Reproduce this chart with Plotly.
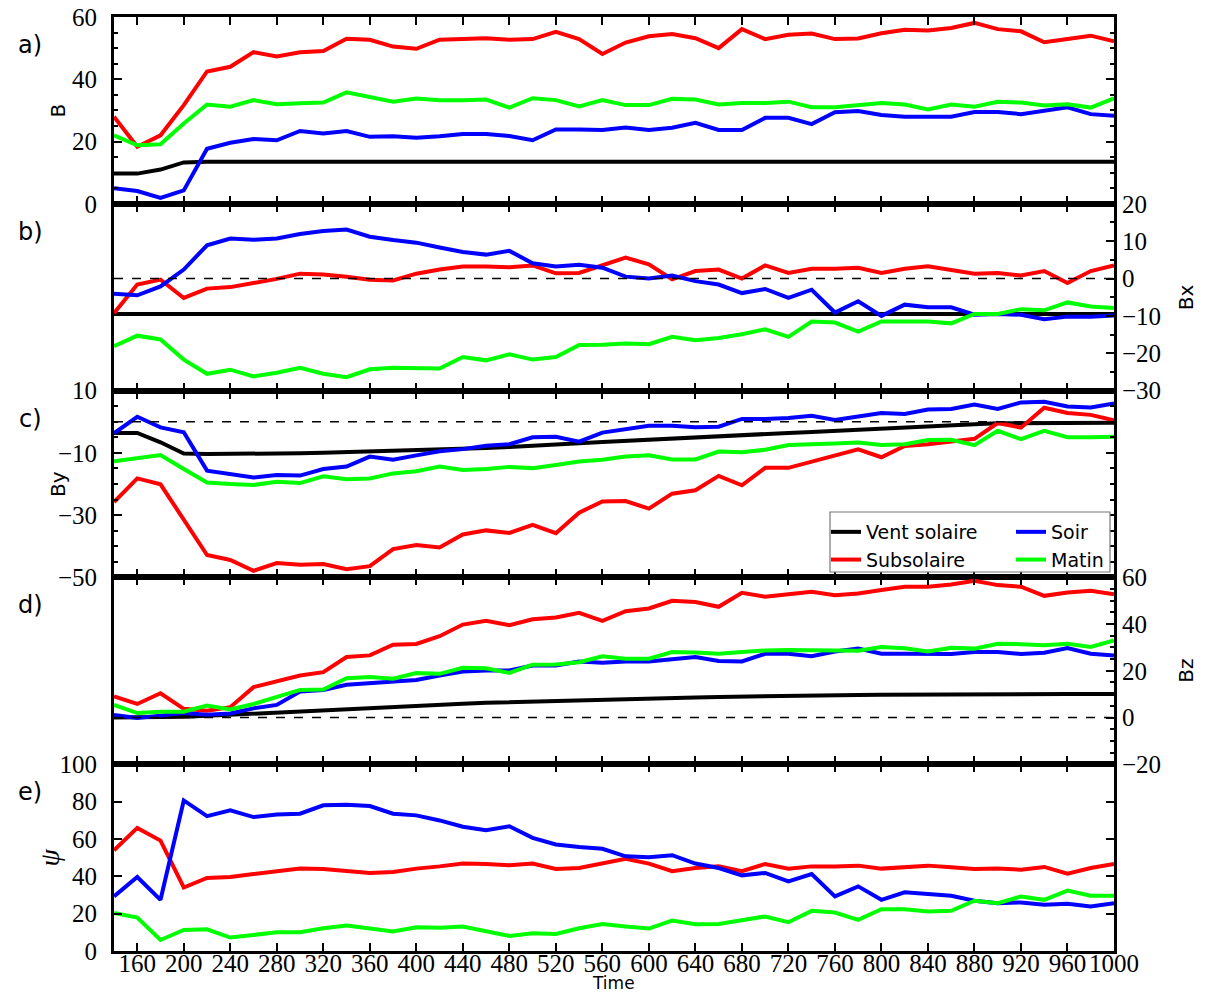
import plotly.graph_objects as go
from plotly.subplots import make_subplots

time = list(range(140, 1001, 20))
time_ticks = list(range(160, 1001, 40))

# a) |B|
b_vent = [9.7, 9.7, 11, 13.3] + [13.5] * 40
b_sub = [28, 18.3, 22, 31.7, 42.5, 44, 48.7, 47.3, 48.7, 49.1,
         53, 52.7, 50.5, 49.8, 52.7, 53, 53.2, 52.7, 52.9, 55.2,
         52.9, 48.1, 51.8, 53.8, 54.5, 53.2, 50, 56.1, 52.9, 54.3,
         54.7, 52.9, 53.1, 54.8, 55.9, 55.7, 56.5, 58.1, 56.1, 55.4,
         51.9, 52.9, 54, 52.2]
b_soir = [5, 4.1, 1.9, 4.3, 17.7, 19.6, 20.8, 20.4, 23.4, 22.6,
          23.4, 21.5, 21.7, 21.2, 21.7, 22.4, 22.4, 21.8, 20.4, 23.9,
          23.9, 23.7, 24.5, 23.7, 24.4, 26, 23.7, 23.7, 27.6, 27.6,
          25.6, 29.4, 29.8, 28.5, 28, 28, 28, 29.5, 29.5, 28.8,
          29.8, 31, 28.8, 28.3]
b_matin = [22, 18.8, 19.1, 25.8, 31.9, 31.2, 33.3, 32, 32.3, 32.5,
           35.8, 34.4, 32.8, 33.8, 33.3, 33.3, 33.5, 30.9, 33.9, 33.3,
           31.3, 33.3, 31.7, 31.7, 33.7, 33.5, 31.9, 32.4, 32.4, 32.8,
           31, 31, 31.7, 32.4, 31.9, 30.3, 31.9, 31.2, 32.8, 32.5,
           31.6, 32, 30.9, 33.9]

# b) Bx
bx_vent = [-9.5] * 44
bx_sub = [-9.3, -1.6, -0.3, -5.2, -2.7, -2.3, -1.2, -0.1, 1.3, 1.1,
          0.5, -0.3, -0.5, 1.3, 2.4, 3.2, 3.2, 3, 3.5, 1.4,
          1.5, 3.5, 5.6, 3.8, -0.2, 2, 2.4, 0, 3.5, 1.5,
          2.6, 2.6, 2.9, 1.5, 2.6, 3.3, 2.3, 1.3, 1.5, 0.8,
          2, -1.2, 2, 3.5]
bx_soir = [-4.1, -4.5, -2.1, 2.4, 8.9, 10.7, 10.4, 10.7, 11.9, 12.7,
           13.1, 11.2, 10.3, 9.6, 8.3, 7.1, 6.4, 7.4, 4.1, 3.2,
           3.7, 2.9, 0.5, 0, 0.8, -0.7, -1.6, -3.9, -2.8, -5.2,
           -3, -9.1, -6.1, -10, -7, -7.7, -7.7, -9.7, -9.5, -9.7,
           -10.9, -10.2, -10.2, -9.9]
bx_matin = [-18.1, -15.3, -16.3, -21.7, -25.5, -24.4, -26.2, -25.2, -23.9, -25.5,
            -26.4, -24.3, -23.9, -23.9, -24.1, -21, -21.9, -20.3, -21.7, -21,
            -17.8, -17.7, -17.4, -17.6, -15.6, -16.5, -15.9, -14.9, -13.6, -15.6,
            -11.5, -11.8, -14.2, -11.5, -11.4, -11.5, -12, -9.5, -9.5, -8.2,
            -8.5, -6.4, -7.5, -7.9]

# c) By
by_vent = [-3.6, -3.6, -6.6, -10.2, -10.4, -10.4, -10.3, -10.2, -10.1, -10.0,
           -9.8, -9.7, -9.5, -9.3, -9.0, -8.7, -8.4, -8.1, -7.8, -7.4,
           -6.9, -6.5, -6.1, -5.8, -5.4, -5.1, -4.7, -4.4, -4.0, -3.6,
           -3.3, -2.9, -2.6, -2.2, -1.9, -1.5, -1.1, -0.8, -0.5, -0.4,
           -0.3, -0.3, -0.3, -0.3]
by_sub = [-25.8, -18.2, -20.1, -31.5, -42.8, -44.4, -47.9, -45.4, -45.9, -45.7,
          -47.4, -46.4, -40.9, -39.6, -40.4, -36.2, -34.9, -35.7, -33.1, -35.8,
          -29.2, -25.6, -25.5, -27.9, -23.1, -22, -17.4, -20.4, -14.8, -14.8,
          -12.8, -11, -8.9, -11.4, -7.8, -7.2, -6.2, -5.5, -0.4, -1.9,
          4.5, 2.8, 2.2, 0.5]
by_soir = [-3.7, 1.6, -1.8, -3.4, -15.7, -16.8, -17.9, -17.1, -17.3, -15.2,
           -14.4, -11.2, -12.2, -10.8, -9.5, -8.8, -7.7, -7.2, -5.0, -4.8,
           -6.4, -3.5, -2.4, -1.3, -1.3, -1.8, -1.6, 0.9, 0.9, 1.2,
           1.9, 0.6, 1.7, 2.8, 2.5, 3.9, 4.1, 5.5, 4.1, 6.2,
           6.4, 4.9, 4.6, 5.9]
by_matin = [-12.7, -11.8, -10.7, -15.2, -19.5, -20, -20.3, -19.3, -19.7, -17.5,
            -18.5, -18.2, -16.6, -15.9, -14.4, -15.5, -15.2, -14.5, -14.9, -13.9,
            -12.8, -12.2, -11.2, -10.8, -12.1, -12.1, -9.6, -9.8, -9.0, -7.5,
            -7.4, -7.0, -6.7, -7.5, -7.2, -5.9, -5.8, -7.5, -2.9, -5.6,
            -2.9, -5.0, -5.0, -4.8]

# d) Bz
bz_vent = [0, 0, 0, 0.3, 0.7, 1.2, 1.7, 2.3, 2.8, 3.3,
           3.8, 4.3, 4.7, 5.1, 5.5, 5.9, 6.3, 6.6, 6.9, 7.2,
           7.5, 7.7, 8.0, 8.2, 8.4, 8.6, 8.8, 9.0, 9.1, 9.3,
           9.4, 9.5, 9.6, 9.7, 9.8, 9.9, 10, 10, 10.1, 10.1,
           10.1, 10.1, 10.1, 10.1]
bz_sub = [9, 5.8, 10.4, 3.7, 2.9, 4.4, 13, 15.6, 18, 19.4,
          25.9, 26.6, 31.2, 31.5, 34.8, 39.8, 41.4, 39.5, 42.1, 42.8,
          44.8, 41.4, 45.5, 46.7, 50, 49.5, 47.4, 53.4, 51.7, 52.8,
          53.8, 52.4, 53.1, 54.6, 56, 56, 57, 58.6, 56.7, 56,
          52.1, 53.5, 54.3, 52.8]
bz_soir = [1.1, -0.2, 0.8, 1.9, 1.2, 1.7, 3.9, 5.4, 11.1, 11.8,
           14, 14.8, 15.4, 16.1, 18, 19.7, 20.1, 20.1, 22.3, 22.3,
           24, 23.5, 24, 24, 24.9, 25.9, 24.2, 24, 27.3, 27.3,
           26.2, 28.3, 29.5, 27.3, 27.3, 27.3, 27.2, 28, 28, 27.2,
           27.7, 29.7, 27.3, 26.6]
bz_matin = [5.4, 1.9, 2.5, 2.5, 5.1, 3.4, 5.8, 9, 11.8, 12,
            16.8, 17.3, 16.6, 19, 18.7, 21.3, 21.1, 19.1, 22.6, 22.7,
            23.7, 26.2, 25.2, 25.2, 28, 27.8, 27.3, 28, 28.7, 28.9,
            28.9, 28.6, 28.6, 30.2, 29.7, 28.3, 29.9, 29.5, 31.6, 31.4,
            30.9, 31.6, 30.2, 33]

# e) psi
psi_sub = [53.9, 65.9, 59.1, 34, 39.1, 39.6, 41.2, 42.7, 44.1, 43.9,
           43, 41.8, 42.3, 44.1, 45.3, 46.8, 46.6, 45.9, 46.8, 43.9,
           44.4, 47, 49.3, 46.8, 42.7, 44.4, 45.3, 42.7, 46.6, 44.1,
           45.3, 45.3, 45.7, 44.1, 45, 45.7, 44.8, 43.9, 44.1, 43.5,
           45, 41.4, 44.4, 46.6]
psi_soir = [29.2, 39.6, 27.4, 80.6, 72.2, 75.3, 71.7, 73.1, 73.5, 78,
            78.3, 77.6, 73.5, 72.6, 69.9, 66.5, 64.7, 66.8, 60.6, 57,
            55.7, 54.7, 50.7, 50.2, 51.3, 46.8, 44.4, 40.5, 41.8, 37.3,
            41.2, 29.2, 34.6, 27.4, 31.4, 30.5, 29.6, 26.9, 25.6, 26,
            24.7, 25.3, 23.8, 25.6]
psi_matin = [20.3, 17.9, 5.9, 11.3, 11.6, 7.2, 8.6, 10, 10, 12.2,
             13.6, 12.2, 10.4, 12.7, 12.5, 13.1, 10.8, 8.1, 9.5, 9.1,
             12.2, 14.5, 13.1, 12, 16.3, 14.3, 14.5, 16.3, 18.5, 15.4,
             21.5, 20.6, 16.7, 22.4, 22.4, 21.1, 21.5, 26.9, 25.6, 29.2,
             27.4, 32.3, 29.6, 29.6]

names = ['Vent solaire', 'Subsolaire', 'Soir', 'Matin']
colors = ['black', '#ff0000', '#0000ff', '#00ff00']
legend_ids = ['legend', 'legend', 'legend2', 'legend2']   # two legend columns

panels = [
    [b_vent, b_sub, b_soir, b_matin],
    [bx_vent, bx_sub, bx_soir, bx_matin],
    [by_vent, by_sub, by_soir, by_matin],
    [bz_vent, bz_sub, bz_soir, bz_matin],
    [None, psi_sub, psi_soir, psi_matin],
]

serif = 'Liberation Serif'
sans = 'DejaVu Sans'

# the page has an 8px body margin; plot area wanted at x 114..1114, y 17..951 on the page
W, H = 1191, 985
L, R, T, B = 106, 85, 9, 42
PX0, PX1, PY0, PY1 = 114, 1114, 17, 951
def px(x): return (x - PX0) / (PX1 - PX0)
def py(y): return (PY1 - y) / (PY1 - PY0)

fig = make_subplots(rows=5, cols=1, shared_xaxes=True, vertical_spacing=0)

for row, series in enumerate(panels, start=1):
    for i, ys in enumerate(series):
        if ys is None: continue
        fig.add_trace(go.Scatter(
            x=time, y=ys, mode='lines', name=names[i],
            line=dict(color=colors[i], width=4),
            legendgroup=names[i], legend=legend_ids[i],
            showlegend=(row == 1),
        ), row=row, col=1)

for row in (2, 3, 4):
    fig.add_hline(y=0, line=dict(color='black', width=1.3, dash='dash'), row=row, col=1)

tickfont = dict(family=serif, size=25, color='black')

fig.update_xaxes(
    range=[140, 1000], tickvals=time_ticks, showgrid=False, zeroline=False,
    showline=True, linewidth=3, linecolor='black', mirror='ticks',
    ticks='inside', ticklen=8, tickwidth=2, tickcolor='black',
    tickfont=tickfont, automargin=False, tickangle=0, ticklabelstandoff=-12,
    ticklabeloverflow='allow',
)

yaxis_common = dict(
    showgrid=False, zeroline=False, showline=True, linewidth=3, linecolor='black',
    ticks='inside', ticklen=8, tickwidth=2, tickcolor='black', tickfont=tickfont,
    automargin=False, ticklabeloverflow='allow',
)
minor = dict(ticks='inside', ticklen=4, tickwidth=1.5, tickcolor='black', dtick=5, tick0=0)

fig.update_yaxes(row=1, col=1, range=[0, 60], tickvals=[0, 20, 40, 60], mirror='ticks',
                 minor=minor, ticklabelstandoff=9, **yaxis_common)
fig.update_yaxes(row=2, col=1, range=[-30, 20], tickvals=[-30, -20, -10, 0, 10, 20], side='right',
                 mirror=True, minor=minor, ticklabelstandoff=0, **yaxis_common)
fig.update_yaxes(row=3, col=1, range=[-50, 10], tickvals=[-50, -30, -10, 10], mirror='ticks',
                 minor=minor, ticklabelstandoff=9, **yaxis_common)
fig.update_yaxes(row=4, col=1, range=[-20, 60], tickvals=[-20, 0, 20, 40, 60], side='right',
                 mirror=True, minor=minor, ticklabelstandoff=0, **yaxis_common)
fig.update_yaxes(row=5, col=1, range=[0, 100], tickvals=[0, 20, 40, 60, 80, 100], mirror='ticks',
                 ticklabelstandoff=9, **yaxis_common)

# panel letters and axis titles
letters = ['a)', 'b)', 'c)', 'd)', 'e)']
titles = [('B', 58), ('Bx', 1186), ('By', 58), ('Bz', 1186), ('<i>ψ</i>', 50)]
panel_h = (PY1 - PY0) / 5
for k in range(5):
    top = PY0 + k * panel_h
    fig.add_annotation(xref='paper', yref='paper', x=px(30), y=py(top + 28), text=letters[k],
                       xanchor='center', yanchor='middle', showarrow=False,
                       font=dict(family=sans, size=24, color='black'))
    label, xpos = titles[k]
    fnt = dict(family=serif if k == 4 else sans, size=28 if k == 4 else 20, color='black')
    fig.add_annotation(xref='paper', yref='paper', x=px(xpos), y=py(top + panel_h / 2),
                       xanchor='center', yanchor='middle',
                       text=label, textangle=-90, showarrow=False, font=fnt)

fig.add_annotation(xref='paper', yref='paper', x=px(613), y=py(983), text='Time', showarrow=False,
                   xanchor='center', yanchor='middle',
                   font=dict(family=sans, size=17, color='black'))

# legend frame (two legend columns drawn inside it)
fig.add_shape(type='rect', xref='paper', yref='paper', layer='above',
              x0=px(830), x1=px(1110), y0=py(572), y1=py(512),
              fillcolor='white', line=dict(color='#777777', width=1.2))

legend_style = dict(
    orientation='v', xanchor='left', yanchor='top', bgcolor='rgba(0,0,0,0)', borderwidth=0,
    font=dict(family=sans, size=19, color='black'), itemwidth=30, tracegroupgap=0,
)

fig.update_layout(
    width=W, height=H,
    margin=dict(l=L, r=R, t=T, b=B),
    paper_bgcolor='white', plot_bgcolor='white',
    font=dict(family=sans, color='black'),
    legend=dict(legend_style, x=px(826), y=py(513)),
    legend2=dict(legend_style, x=px(1011), y=py(513)),
)

fig.write_html('out.html')
